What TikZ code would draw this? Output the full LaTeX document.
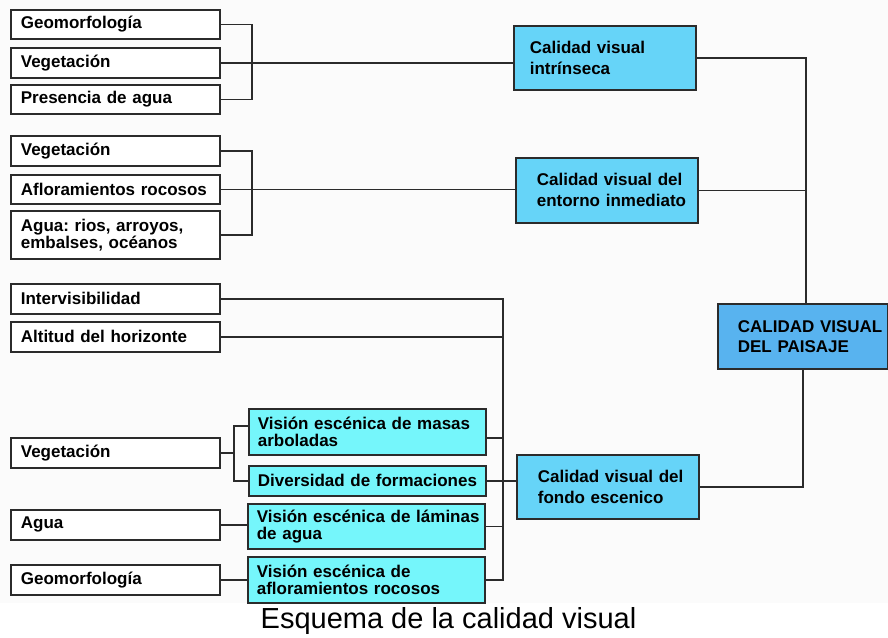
\documentclass[tikz,border=0pt]{standalone}
\usepackage{fontspec}
\setmainfont{Liberation Sans}
\usetikzlibrary{calc,positioning}
\definecolor{lineC}{HTML}{2B2B2B}
\definecolor{subC}{HTML}{75F6FB}
\definecolor{calC}{HTML}{66D4F8}
\definecolor{topC}{HTML}{58B3EF}
\definecolor{bgC}{HTML}{FBFBFB}
\tikzset{
	box/.style={draw=lineC, line width=1.7pt, anchor=north west, align=left, inner ysep=2pt,
		font=\bfseries\fontsize{17}{17}\selectfont},
	leaf/.style={box, fill=white, inner xsep=10pt, text width=189pt, minimum height=#1},
	sub/.style={box, fill=subC, inner xsep=9pt, text width=219pt, minimum height=#1},
	cal/.style 2 args={box, fill=calC, inner xsep=#1, text width=#2, minimum height=64pt,
		font=\bfseries\fontsize{17}{21}\selectfont},
	top/.style={box, fill=topC, inner xsep=20pt, text width=130pt, minimum height=65pt,
		font=\bfseries\fontsize{17}{20}\selectfont},
	link/.style={draw=lineC, line width=1.7pt}
}
\frenchspacing
\hyphenpenalty=10000
\exhyphenpenalty=10000

\begin{document}
\begin{tikzpicture}[x=1pt,y=-1pt]
	\fill[white] (0,0) rectangle (888,637);
	\fill[bgC] (0,0) rectangle (888,603);
	\useasboundingbox (0,0) rectangle (888,637);

	% calidad visual intrinseca
	\node[leaf=29pt] (g1) at (10,9) {Geomorfología};
	\node[leaf=30pt] (v1) at (10,47) {Vegetación};
	\node[leaf=29pt] (a1) at (10,84) {Presencia de agua};
	\node[cal={16pt}{150pt}] (cvi) at (513,25) {Calidad visual\\intrínseca};

	% entorno inmediato
	\node[leaf=30pt] (v2) at (10,135) {Vegetación};
	\node[leaf=29pt] (r2) at (10,174) {Afloramientos~rocosos};
	\node[leaf=48pt] (a2) at (10,210) {Agua: rios, arroyos,\\embalses, océanos};
	\node[cal={21pt}{140pt}, minimum height=65pt] (cve) at (515,157) {Calidad~visual~del\\entorno~inmediato};

	% fondo escenico
	\node[leaf=30pt] (i3) at (10,283) {Intervisibilidad};
	\node[leaf=30pt] (h3) at (10,321) {Altitud del horizonte};
	\node[leaf=30pt] (v3) at (10,437) {Vegetación};
	\node[leaf=30pt] (a3) at (10,509) {Agua};
	\node[leaf=30pt] (g3) at (10,564) {Geomorfología};
	\node[sub=46pt] (masas) at (248,408) {Visión~escénica~de~masas\\arboladas};
	\node[sub=30pt] (divers) at (248,465) {Diversidad~de~formaciones};
	\node[sub=45pt] (laminas) at (247,503) {Visión~escénica~de~láminas\\de agua};
	\node[sub=46pt] (aflor) at (247,556) {Visión escénica de\\afloramientos~rocosos};
	\node[cal={21pt}{140pt}] (cvf) at (516,454) {Calidad~visual~del\\fondo escenico};

	\node[top] (paisaje) at (717,303) {CALIDAD~VISUAL\\DEL~PAISAJE};

	\node[font=\fontsize{29}{30}\selectfont, anchor=base] (cap) at (448.5,628) {Esquema de la calidad visual};

	\coordinate (b1) at (252,0);
	\coordinate (bus) at (503,0);
	\coordinate (vs) at (234,0);
	\coordinate (pv) at (806,0);

	\path[link] (g1.east) -| (b1 |- a1.east) -- (a1.east);
	\path[link] (v1.east) -- (v1.east -| cvi.west);
	\path[link] (v2.east) -| (b1 |- a2.east) -- (a2.east);
	\path[link] (r2.east) -- (r2.east -| cve.west);

	\path[link] (i3.east) -| (bus |- aflor.east) -- (aflor.east);
	\path[link] (h3.east) -- (h3.east -| bus);
	\path[link] ([yshift=-6pt]masas.east) -- ([yshift=-6pt]masas.east -| bus);
	\path[link] (laminas.east) -- (laminas.east -| bus);
	\path[link] (v3.east) -- (v3.east -| vs);
	\path[link] ([yshift=6pt]masas.west) -| (vs |- divers.west) -- (divers.west);
	\path[link] (a3.east) -- (a3.east -| laminas.west);
	\path[link] (g3.east) -- (g3.east -| aflor.west);
	\path[link] (divers.east) -- (divers.east -| cvf.west);

	\path[link] (cvi.east) -| (pv |- paisaje.north);
	\path[link] (cve.east) -- (cve.east -| pv);
	\path[link] (paisaje.south) |- (cvf.east);
\end{tikzpicture}
\end{document}
